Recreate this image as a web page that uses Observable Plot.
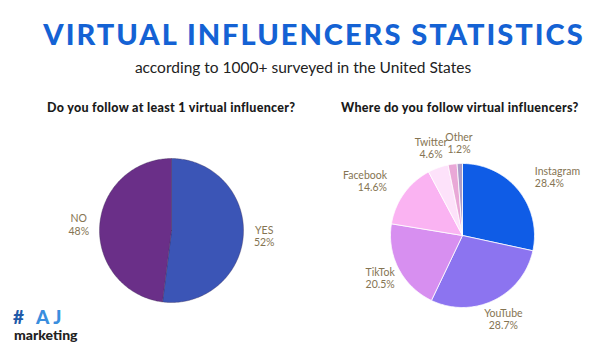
<!DOCTYPE html>
<html>
<head>
<meta charset="utf-8">
<script src="https://cdn.jsdelivr.net/npm/d3@7"></script>
<script src="https://cdn.jsdelivr.net/npm/@observablehq/plot@0.6"></script>
<style>
  html, body { margin: 0; padding: 0; background: #fff; }
  #wrap { position: relative; width: 600px; height: 354px; overflow: hidden; background: #fff; font-family: Lato, "Open Sans", sans-serif; }
  .abs { position: absolute; white-space: nowrap; }
  #title { left: 0; width: 628px; top: 17px; text-align: center; font-size: 29px; font-weight: 900; color: #1462d4; letter-spacing: 2px; line-height: 34px; }
  #subtitle { left: 0; width: 606px; top: 57px; text-align: center; font-size: 15.5px; color: #222; line-height: 20px; }
  .q { top: 100px; font-size: 12.5px; font-weight: 900; color: #1a1a1a; line-height: 16px; letter-spacing: 0.3px; }
  #q1 { left: 47px; }
  #q2 { left: 341px; }
  #pie1 { left: 41px; top: 120px; }
  #pie2 { left: 332px; top: 125px; }
  #logo1 { left: 13px; top: 307px; font-size: 19px; font-weight: 900; color: #3a8ede; line-height: 19px; letter-spacing: 4px; }
  #logo1 .h { color: #1f5aa8; }
  #logo2 { left: 14px; top: 327px; font-size: 14px; font-weight: 900; color: #222; line-height: 15px; }
</style>
</head>
<body>
<div id="wrap">
  <div id="title" class="abs">VIRTUAL INFLUENCERS STATISTICS</div>
  <div id="subtitle" class="abs">according to 1000+ surveyed in the United States</div>
  <div id="q1" class="abs q">Do you follow at least 1 virtual influencer?</div>
  <div id="q2" class="abs q">Where do you follow virtual influencers?</div>
  <div id="pie1" class="abs"></div>
  <div id="pie2" class="abs"></div>
  <div id="logo1" class="abs"><span class="h">#</span> AJ</div>
  <div id="logo2" class="abs">marketing</div>
</div>
<script>
// ---- data ----
const followNames = ["YES", "NO"];
const followValues = [52, 48];
const platformNames = ["Instagram", "YouTube", "TikTok", "Facebook", "Twitter", "", "Other"];
const platformValues = [28.4, 28.7, 20.5, 14.6, 4.6, 2.0, 1.2];

// ---- styles ----
const followColors = ["#3b55b6", "#6a2f88"];
const platformColors = ["#0f5ce6", "#8c74f0", "#d78ff0", "#fab3f2", "#fde2fa", "#e9a8d7", "#ab9cc9"];
const labelColor = "#857452";

function makeSlices(names, values) {
  const total = d3.sum(values);
  let acc = 0;
  return names.map((name, i) => {
    const a0 = acc / total * 2 * Math.PI;
    acc += values[i];
    const a1 = acc / total * 2 * Math.PI;
    return {key: i + ":" + name, name, value: values[i], a0, a1, mid: (a0 + a1) / 2};
  });
}
function polygons(slices) {
  const pts = [];
  for (const s of slices) {
    pts.push({key: s.key, x: 0, y: 0});
    const n = Math.max(2, Math.ceil((s.a1 - s.a0) / (Math.PI / 180)));
    for (let k = 0; k <= n; k++) {
      const a = s.a0 + (s.a1 - s.a0) * k / n;
      pts.push({key: s.key, x: Math.sin(a), y: Math.cos(a)});
    }
    pts.push({key: s.key, x: 0, y: 0});
  }
  return pts;
}
function anchorOf(s) {
  const sn = Math.sin(s.mid), cs = Math.cos(s.mid);
  if (Math.abs(sn) > 0.5 && Math.abs(cs) > 0.5) return sn > 0 ? "start" : "end";
  return "middle";
}
function pie(names, values, colors, strokeOpts) {
  const R = 72, W = 260, H = 220, LR = 1.29;
  const slices = makeSlices(names, values);
  const labeled = slices.filter(s => s.name !== "");
  const textMarks = ["start", "middle", "end"].map(anchor =>
    Plot.text(labeled.filter(s => anchorOf(s) === anchor), {
      x: s => LR * Math.sin(s.mid),
      y: s => LR * Math.cos(s.mid),
      text: s => `${s.name}\n${s.value}%`,
      textAnchor: anchor,
      fontSize: 10.5,
      lineHeight: 1.15,
      fill: labelColor,
      fontFamily: "Lato, sans-serif"
    })
  );
  return Plot.plot({
    width: W, height: H, margin: 0,
    style: {background: "transparent", overflow: "visible"},
    x: {domain: [-W / 2 / R, W / 2 / R], axis: null},
    y: {domain: [-H / 2 / R, H / 2 / R], axis: null},
    color: {domain: slices.map(s => s.key), range: colors},
    marks: [
      Plot.line(polygons(slices), {x: "x", y: "y", z: "key", fill: "key", ...strokeOpts}),
      ...textMarks
    ]
  });
}

document.getElementById("pie1").appendChild(
  pie(followNames, followValues, followColors, {stroke: "#3a2d55", strokeWidth: 0.6, strokeOpacity: 0.6}));
document.getElementById("pie2").appendChild(
  pie(platformNames, platformValues, platformColors, {stroke: "white", strokeWidth: 0.8}));
</script>
</body>
</html>
